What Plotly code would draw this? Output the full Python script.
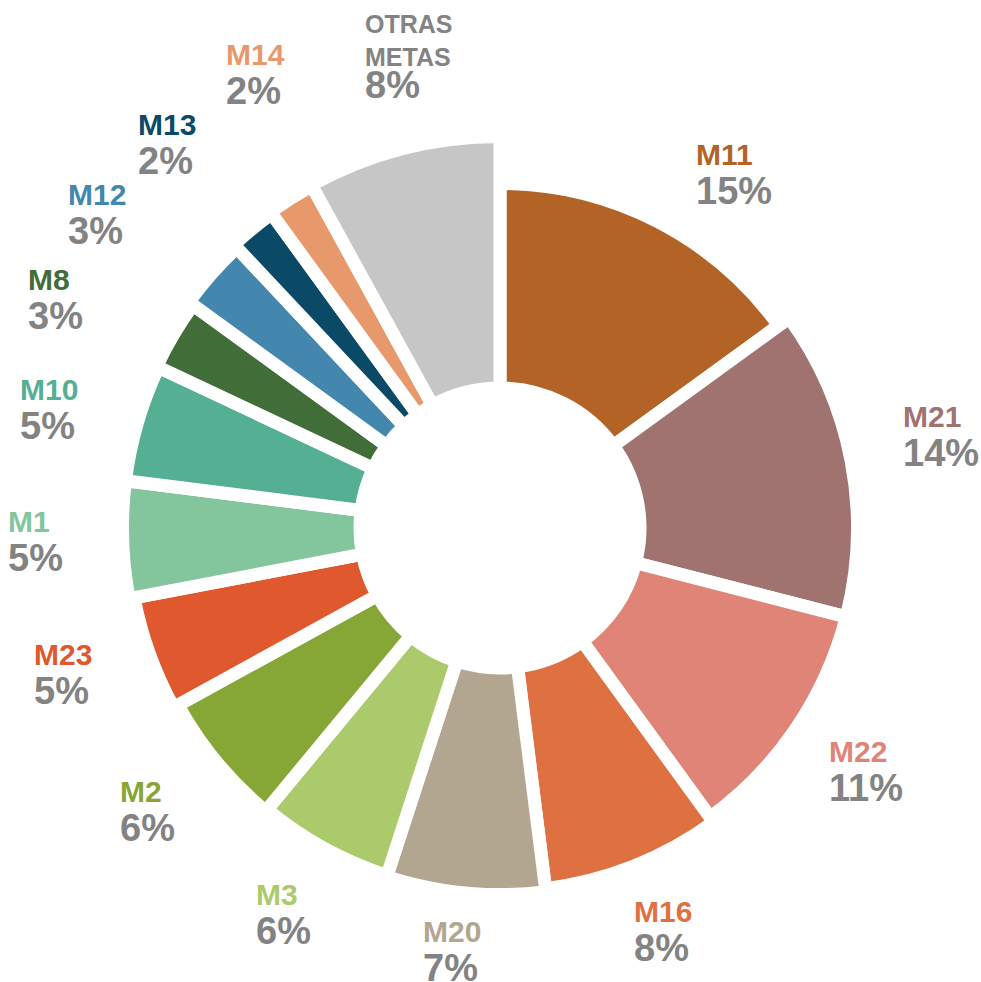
import math
import plotly.graph_objects as go

# ---------------- data ----------------
labels = ["M11", "M21", "M22", "M16", "M20", "M3", "M2", "M23", "M1", "M10",
          "M8", "M12", "M13", "M14", "OTRAS<br>METAS"]
values = [15, 14, 11, 8, 7, 6, 6, 5, 5, 5, 3, 3, 2, 2, 8]

# ---------------- style ----------------
colors = ["#B26325", "#A07370", "#E08478", "#DF7042", "#B3A691", "#ABCA6B",
          "#86A635", "#E0582D", "#83C69E", "#55AF93", "#416E38", "#4387AE",
          "#0B4A66", "#E8996B", "#C6C6C6"]
name_colors = colors[:-1] + ["#838383"]
pct_color = "#838383"
name_sizes = [30] * 14 + [25]
pct_size = 38
font_family = "Liberation Sans, Arial, sans-serif"

# visible outer reach of each slice (px from centre) - the ring widens as it goes round
slice_reach = [338, 351, 351, 357, 360, 359, 361, 366, 371, 371, 373, 378, 382, 384, 385]
hole_px = 140          # inner edge of the bars (px)
ring_px = 400          # radius of polar domain (px)
gap_px = 13            # white separation between slices
# label anchor (left-middle of the text block): angle (deg, clockwise from top), radius (px)
label_theta = [29.3, 77.3, 126.4, 161.4, 190.0, 212.0, 233.1, 252.4, 268.4, 283.9,
               295.9, 306.1, 316.8, 329.0, 344.2]
label_px = [405, 415, 411, 426, 431, 456, 473, 487, 490, 492, 522, 532, 526, 528, 488]

W, H = 981, 982
cx, cy = 500, 528

# ---------------- geometry from data ----------------
total = sum(values)
theta_mid, widths = [], []
acc = 0
for v in values:
    theta_mid.append(360.0 * (acc + v / 2) / total)
    widths.append(360.0 * v / total)
    acc += v

bar_r = [r + gap_px / 2 - hole_px for r in slice_reach]

fig = go.Figure()
fig.add_trace(go.Barpolar(
    r=bar_r,
    base=[hole_px] * len(values),
    theta=theta_mid,
    width=widths,
    marker=dict(color=colors, line=dict(color="white", width=gap_px)),
    showlegend=False,
    hoverinfo="skip",
))

annotations = []
for l, v, c, s, th, rp in zip(labels, values, name_colors, name_sizes, label_theta, label_px):
    a = math.radians(th)
    px = cx + rp * math.sin(a)
    py = cy - rp * math.cos(a)
    name_lines = "<br>".join(
        f"<b><span style='color:{c};font-size:{s}px'>{part}</span></b>" for part in l.split("<br>")
    )
    annotations.append(dict(
        x=px / W, y=1 - py / H, xref="paper", yref="paper",
        xanchor="left", yanchor="middle", align="left", showarrow=False,
        xshift=-3, borderpad=0,
        text=(f"{name_lines}<br>"
              f"<b><span style='font-size:{pct_size}px'>{round(100 * v / total)}%</span></b>"),
        font=dict(family=font_family, size=s, color=pct_color),
    ))

fig.update_layout(
    width=W, height=H,
    margin=dict(l=0, r=0, t=0, b=0),
    paper_bgcolor="white",
    annotations=annotations,
    polar=dict(
        domain=dict(x=[(cx - ring_px) / W, (cx + ring_px) / W],
                    y=[(H - cy - ring_px) / H, (H - cy + ring_px) / H]),
        hole=0,
        bgcolor="rgba(0,0,0,0)",
        radialaxis=dict(range=[0, ring_px], visible=False, showgrid=False,
                        showline=False),
        angularaxis=dict(rotation=90, direction="clockwise", visible=False,
                         showgrid=False, showline=False),
        bargap=0,
    ),
)

fig.write_html("out.html")
